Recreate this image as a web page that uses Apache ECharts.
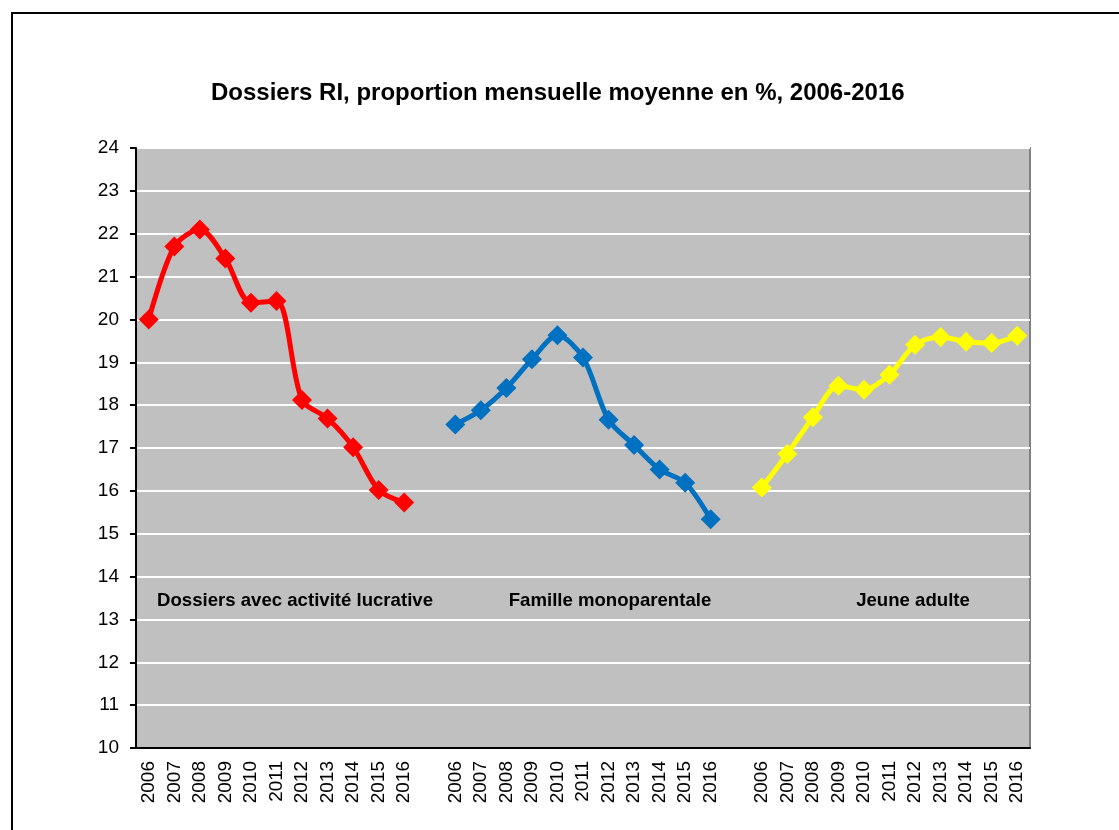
<!DOCTYPE html>
<html>
<head>
<meta charset="utf-8">
<title>Dossiers RI</title>
<script src="https://cdn.jsdelivr.net/npm/echarts@6/dist/echarts.min.js"></script>
<style>
  html, body { margin: 0; padding: 0; background: #fff; }
  #chart { width: 1119px; height: 830px; }
</style>
</head>
<body>
<div id="chart"></div>
<script>
// years shown under each of the three groups
var years = ["2006", "2007", "2008", "2009", "2010", "2011", "2012", "2013", "2014", "2015", "2016"];

// values (%)
var activiteLucrative = [20.0, 21.7, 22.1, 21.42, 20.39, 20.43, 18.12, 17.69, 17.02, 16.02, 15.73];
var familleMonoparentale = [17.55, 17.88, 18.4, 19.07, 19.63, 19.11, 17.66, 17.07, 16.5, 16.19, 15.34];
var jeuneAdulte = [16.08, 16.86, 17.72, 18.45, 18.36, 18.71, 19.41, 19.59, 19.48, 19.45, 19.62];

var groupNames = ["Dossiers avec activité lucrative", "Famille monoparentale", "Jeune adulte"];

// one blank category between groups
var categories = years.concat([""], years, [""], years);

function blanks(n) {
  var out = [];
  for (var i = 0; i < n; i++) out.push(null);
  return out;
}

var redData = activiteLucrative.concat(blanks(24));
var blueData = blanks(12).concat(familleMonoparentale, blanks(12));
var yellowData = blanks(24).concat(jeuneAdulte);

var chart = echarts.init(document.getElementById("chart"));

function lineSeries(name, data, color) {
  return {
    name: name,
    type: "line",
    data: data,
    smooth: 0.3,
    connectNulls: false,
    symbol: "diamond",
    symbolSize: 20,
    lineStyle: { color: color, width: 5 },
    itemStyle: { color: color },
    z: 3
  };
}

var labelStyle = {
  fontFamily: "'Liberation Sans Narrow', 'Liberation Sans', Arial, sans-serif",
  fontWeight: "bold",
  fontSize: 18.6,
  fill: "#000"
};

chart.setOption({
  backgroundColor: "#fff",
  animation: false,
  title: {
    text: "Dossiers RI, proportion mensuelle moyenne en %, 2006-2016",
    left: 206,
    top: 76,
    textStyle: {
      fontFamily: "'Liberation Sans', Arial, sans-serif",
      fontWeight: "bold",
      fontSize: 24,
      color: "#000"
    }
  },
  grid: {
    left: 136,
    top: 148,
    right: 89,
    bottom: 82,
    show: true,
    backgroundColor: "#C0C0C0",
    borderColor: "#808080",
    borderWidth: 2
  },
  xAxis: {
    type: "category",
    data: categories,
    boundaryGap: true,
    axisLine: { lineStyle: { color: "#000", width: 2 } },
    axisTick: { show: false },
    axisLabel: {
      interval: 0,
      rotate: 90,
      margin: 13,
      color: "#000",
      fontSize: 19,
      fontFamily: "'Liberation Sans', Arial, sans-serif"
    }
  },
  yAxis: {
    type: "value",
    min: 10,
    max: 24,
    interval: 1,
    axisLine: { show: true, lineStyle: { color: "#000", width: 2 } },
    axisTick: { show: true, length: 6, lineStyle: { color: "#000", width: 2 } },
    axisLabel: {
      margin: 17,
      color: "#000",
      fontSize: 19,
      fontFamily: "'Liberation Sans', Arial, sans-serif"
    },
    splitLine: { lineStyle: { color: "#fff", width: 2 } }
  },
  graphic: [
    {
      type: "rect",
      shape: { x: 12, y: 13, width: 1300, height: 1000 },
      style: { fill: "none", stroke: "#000", lineWidth: 2 },
      silent: true
    },
    { type: "text", x: 295, y: 601, style: Object.assign({ text: groupNames[0], align: "center", verticalAlign: "middle" }, labelStyle) },
    { type: "text", x: 610, y: 601, style: Object.assign({ text: groupNames[1], align: "center", verticalAlign: "middle" }, labelStyle) },
    { type: "text", x: 913, y: 601, style: Object.assign({ text: groupNames[2], align: "center", verticalAlign: "middle" }, labelStyle) }
  ],
  series: [
    lineSeries(groupNames[0], redData, "#FF0000"),
    lineSeries(groupNames[1], blueData, "#0070C0"),
    lineSeries(groupNames[2], yellowData, "#FFFF00")
  ]
});
</script>
</body>
</html>
